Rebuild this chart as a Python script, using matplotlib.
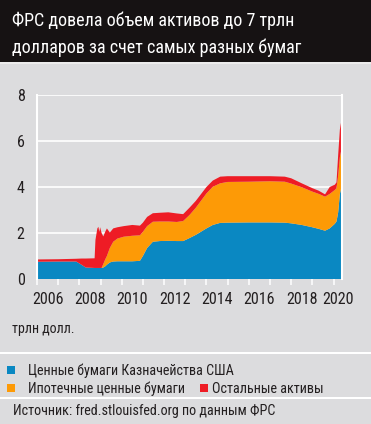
import matplotlib
matplotlib.use("Agg")
import matplotlib.pyplot as plt
from matplotlib.patches import Rectangle
import numpy as np

# Fed balance sheet, trillion USD
years = [2006.0, 2007.0, 2007.85, 2008.1, 2008.3, 2008.72, 2008.76, 2008.85, 2008.9,
         2008.94, 2008.98, 2009.05, 2009.13, 2009.22, 2009.3, 2009.44, 2009.6, 2009.8,
         2010.1, 2010.5, 2010.86, 2011.0, 2011.2, 2011.47, 2011.8, 2012.2, 2012.6,
         2012.9, 2013.2, 2013.5, 2014.0, 2014.3, 2014.65, 2015.0, 2016.0, 2017.0,
         2017.7, 2018.0, 2018.5, 2019.0, 2019.3, 2019.6, 2019.82, 2020.06, 2020.14,
         2020.22, 2020.3, 2020.4]
treasuries = [0.75, 0.76, 0.76, 0.62, 0.50, 0.48, 0.48, 0.48, 0.48,
              0.48, 0.48, 0.48, 0.50, 0.55, 0.62, 0.72, 0.76, 0.77,
              0.77, 0.77, 0.79, 1.00, 1.35, 1.62, 1.65, 1.66, 1.65,
              1.65, 1.78, 1.92, 2.20, 2.35, 2.44, 2.45, 2.46, 2.46,
              2.45, 2.42, 2.35, 2.25, 2.18, 2.10, 2.20, 2.40, 2.50,
              2.90, 3.70, 4.10]
mbs = [0, 0, 0, 0, 0, 0, 0, 0, 0,
       0, 0, 0, 0.15, 0.30, 0.38, 0.63, 0.86, 0.99,
       1.07, 1.11, 1.11, 1.05, 0.95, 0.87, 0.85, 0.84, 0.83,
       0.87, 1.00, 1.18, 1.52, 1.66, 1.72, 1.77, 1.77, 1.79,
       1.78, 1.73, 1.64, 1.55, 1.52, 1.48, 1.50, 1.47, 1.45,
       1.60, 1.60, 1.65]
total = [0.85, 0.86, 0.88, 0.89, 0.89, 0.90, 1.70, 2.20, 2.27,
         2.05, 2.25, 2.00, 1.85, 2.05, 2.20, 2.02, 2.20, 2.25,
         2.30, 2.35, 2.32, 2.45, 2.70, 2.86, 2.88, 2.90, 2.85,
         2.82, 3.10, 3.40, 4.00, 4.28, 4.45, 4.47, 4.47, 4.47,
         4.45, 4.38, 4.16, 3.95, 3.84, 3.68, 4.00, 4.10, 4.20,
         5.40, 6.50, 7.05]
other = [t - a - b for t, a, b in zip(total, treasuries, mbs)]

year_labels = ["2006", "2008", "2010", "2012", "2014", "2016", "2018", "2020"]
label_pos = [2006.5, 2008.5, 2010.5, 2012.5, 2014.5, 2016.5, 2018.5, 2020.2]

title = "ФРС довела объем активов до 7 трлн\nдолларов за счет самых разных бумаг"
legend_names = ["Ценные бумаги Казначейства США", "Ипотечные ценные бумаги", "Остальные активы"]
colors = ["#0a88c2", "#fd9a06", "#ee1c25"]

plt.rcParams['font.family'] = ['Roboto Condensed', 'DejaVu Sans']

W, H = 371, 424
bg = "#dcdcde"
txt = "#231f20"

def fx(x):
    return x / W

def fy(y):
    return 1 - y / H

fig = plt.figure(figsize=(W / 100, H / 100), dpi=100, facecolor=bg)

# title bar
fig.patches.append(Rectangle((0, fy(62)), 1, 62 / H, transform=fig.transFigure,
                             facecolor="#161213", edgecolor="none"))
fig.patches.append(Rectangle((0, fy(64)), 1, 2 / H, transform=fig.transFigure,
                             facecolor="#ececec", edgecolor="none"))
fig.text(fx(12), fy(26.5), title.split("\n")[0], color="white", fontsize=13, va="baseline")
fig.text(fx(12), fy(53), title.split("\n")[1], color="white", fontsize=13, va="baseline")

# chart
ax = fig.add_axes([fx(37), fy(279), (342 - 37) / W, (279 - 95) / H])
ax.set_facecolor(bg)
ax.stackplot(years, treasuries, mbs, other, colors=colors, linewidth=0)
ax.set_xlim(2006, 2020.4)
ax.set_ylim(0, 8)
ax.set_yticks([0, 2, 4, 6, 8])
ax.grid(axis="y", color="white", linewidth=1.2, zorder=0)
ax.set_axisbelow(True)

for s in ["top", "bottom"]:
    ax.spines[s].set_visible(False)
for s in ["left", "right"]:
    ax.spines[s].set_color("white")
    ax.spines[s].set_linewidth(1.5)

ax.set_xticks(np.arange(2006, 2021))
ax.set_xticklabels([])
ax.tick_params(axis="x", which="major", length=4, width=1.1, color="white")
ax.set_xticks(label_pos, minor=True)
ax.set_xticklabels(year_labels, minor=True)
ax.tick_params(axis="x", which="minor", length=0, pad=9, labelsize=11.5, labelcolor=txt)
ax.tick_params(axis="y", length=0, pad=9, labelsize=11.5, labelcolor=txt)

fig.text(fx(12), fy(333), "трлн долл.", color=txt, fontsize=10, va="baseline")

# separators
for yy in [353, 398]:
    fig.patches.append(Rectangle((0, fy(yy + 1)), 1, 2 / H, transform=fig.transFigure,
                                 facecolor="white", edgecolor="none"))

# legend
fig.patches.append(Rectangle((fx(7), fy(374)), 8 / W, 8 / H, transform=fig.transFigure,
                             facecolor=colors[0], edgecolor="none"))
fig.text(fx(28), fy(375), legend_names[0], color=txt, fontsize=10.2, va="baseline")
fig.patches.append(Rectangle((fx(7), fy(392)), 8 / W, 8 / H, transform=fig.transFigure,
                             facecolor=colors[1], edgecolor="none"))
fig.text(fx(28), fy(393), legend_names[1], color=txt, fontsize=10.2, va="baseline")
fig.patches.append(Rectangle((fx(200), fy(392)), 8 / W, 8 / H, transform=fig.transFigure,
                             facecolor=colors[2], edgecolor="none"))
fig.text(fx(212), fy(393), legend_names[2], color=txt, fontsize=10.2, va="baseline")

fig.text(fx(13), fy(415), "Источник: fred.stlouisfed.org по данным ФРС", color=txt,
         fontsize=10.2, va="baseline")

fig.savefig("out.png", dpi=100, facecolor=bg)
